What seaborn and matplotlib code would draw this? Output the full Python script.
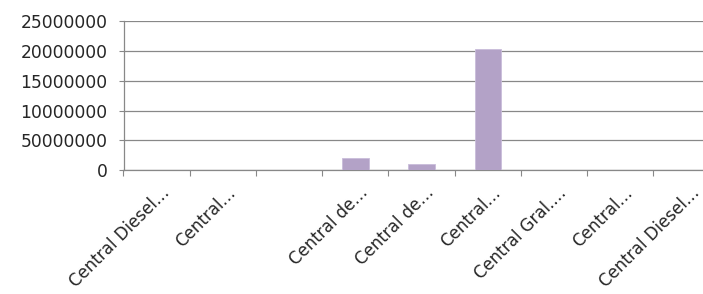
import numpy as np
import pandas as pd
import matplotlib
matplotlib.use("Agg")
import matplotlib.pyplot as plt
import matplotlib.transforms as mtransforms
import seaborn as sns

# Chart data
categories = ["Central Diesel…", "Central…", "", "Central de…", "Central de…",
              "Central…", "Central Gral.…", "Central…", "Central Diesel…"]
values = [0, 0, 0, 2070000, 960000, 20400000, 0, 0, 0]
y_ticks = [0, 5000000, 10000000, 15000000, 20000000, 25000000]
y_tick_labels = ["0", "50000000", "10000000", "15000000", "20000000", "25000000"]

df = pd.DataFrame({"pos": range(len(categories)), "value": values})

sns.set_style("white")
plt.rcParams["font.family"] = ["DejaVu Sans"]

grid_col = "#888888"
text_col = "#262626"

fig = plt.figure(figsize=(7.03, 2.94), dpi=100)
ax = fig.add_axes([123.5 / 703, 1 - 170 / 294, 1 - 123.5 / 703, (170 - 21.3) / 294])

sns.barplot(data=df, x="pos", y="value", color="#B3A2C7", width=0.4,
            saturation=1, edgecolor="#C9BCDA", linewidth=0.6, ax=ax, zorder=3)

ax.set_xlabel("")
ax.set_ylabel("")

# y axis
ax.set_yticks(y_ticks)
ax.set_yticklabels(y_tick_labels, fontsize=12.3, color=text_col)
ax.tick_params(axis="y", length=3.6, width=0.8, color=grid_col, pad=8, left=True)
ax.yaxis.grid(True, color=grid_col, linewidth=0.9, zorder=0)
ax.set_axisbelow(True)

# x axis: tick marks between categories, labels at centers
ax.set_xticks(np.arange(len(categories)))
ax.set_xticklabels(categories, fontsize=12, color=text_col, rotation=45,
                   ha="right", va="center", rotation_mode="anchor")
ax.set_xticks(np.arange(-0.5, len(categories), 1.0), minor=True)
ax.tick_params(axis="x", which="major", length=0, pad=14.5)
ax.tick_params(axis="x", which="minor", length=4.3, width=0.8, color=grid_col, bottom=True)
shift = mtransforms.ScaledTranslation(10 / 100, 0, fig.dpi_scale_trans)
for lbl in ax.get_xticklabels():
    lbl.set_transform(lbl.get_transform() + shift)

# set limits last so the tick calls don't widen them
ax.set_xlim(-0.5, 8.25)
ax.set_ylim(0, 25000000)

for side in ["top", "right"]:
    ax.spines[side].set_visible(False)
ax.spines["left"].set_color(grid_col)
ax.spines["bottom"].set_color(grid_col)
ax.spines["left"].set_linewidth(0.9)
ax.spines["bottom"].set_linewidth(0.9)

fig.savefig("out.png", dpi=100)
